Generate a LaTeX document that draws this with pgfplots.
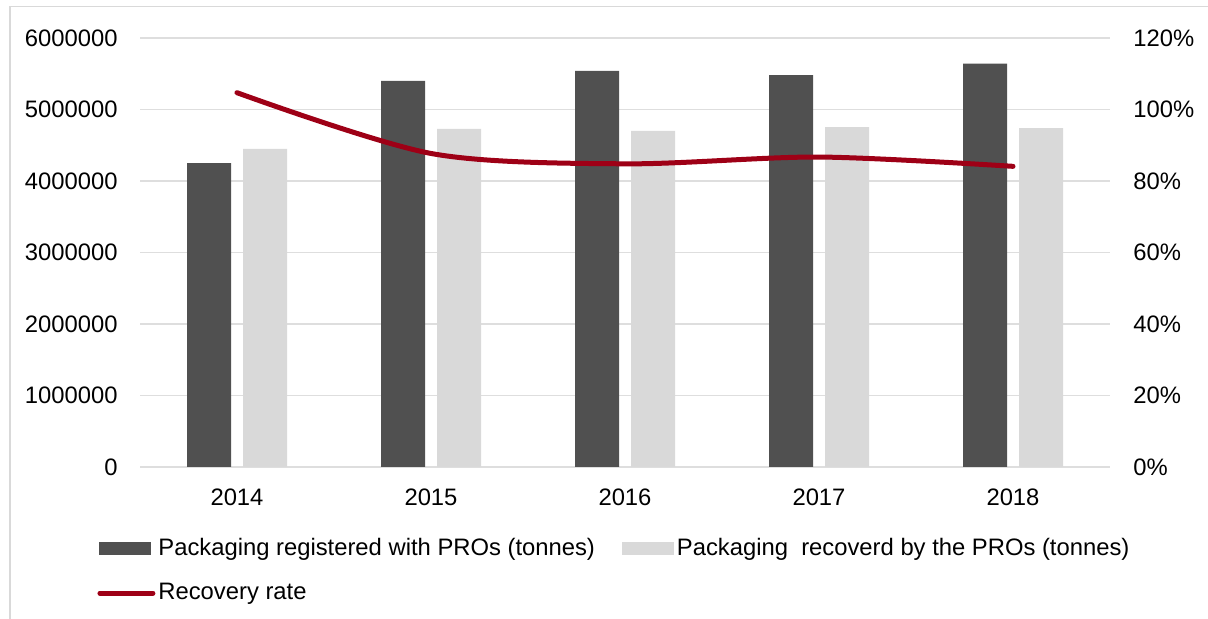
\documentclass[border=0pt]{standalone}
\usepackage{fontspec}
\setmainfont{Liberation Sans}
\usepackage{pgfplots}
\pgfplotsset{compat=1.18}

\definecolor{barDark}{RGB}{80,80,80}
\definecolor{barLight}{RGB}{217,217,217}
\definecolor{rateRed}{RGB}{158,0,22}
\definecolor{gridGray}{RGB}{222,222,222}

\newcommand{\lblfont}{\fontsize{11.9}{14}\selectfont}

\pgfplotsset{
  base/.style={
    scale only axis,
    width=485pt, height=214.5pt,
    at={(70pt,76pt)}, anchor=south west,
    xmin=-0.5, xmax=4.5,
    axis line style={draw=none},
    tick style={draw=none},
    tick label style={font=\lblfont, inner sep=0pt},
  },
}

\begin{document}
\begin{tikzpicture}
\path[use as bounding box] (0,0) rectangle (604pt,309.5pt);
\draw[barLight, line width=0.8pt] (5pt,0) |- (604pt,306.2pt);

\begin{axis}[
  base,
  ymin=0, ymax=6000000,
  scaled y ticks=false,
  ytick={0,1000000,2000000,3000000,4000000,5000000,6000000},
  yticklabels={0,1000000,2000000,3000000,4000000,5000000,6000000},
  yticklabel style={anchor=east, xshift=-11pt},
  xtick={0,1,2,3,4},
  xticklabels={2014,2015,2016,2017,2018},
  xticklabel style={anchor=base, yshift=-19.5pt},
  ymajorgrids,
  grid style={gridGray, line width=0.75pt},
  bar width=22pt,
  legend columns=2,
  legend cell align=left,
  legend style={
    at={(axis description cs:-0.0443,-0.165)}, anchor=north west,
    draw=none, fill=none, inner sep=0pt,
    font=\lblfont,
    nodes={inner sep=0pt},
    row sep=12.5pt,
    /tikz/every odd column/.append style={column sep=1.5pt},
    /tikz/every even column/.append style={column sep=13.5pt},
  },
]
\addplot[ybar, bar shift=-14pt, fill=barDark, draw=none,
  legend image code/.code={\fill[barDark] (0pt,-3.25pt) rectangle (26pt,3.25pt);}]
  coordinates {(0,4250000) (1,5400000) (2,5540000) (3,5480000) (4,5640000)};
\addlegendentry{Packaging registered with PROs (tonnes)}
\addplot[ybar, bar shift=14pt, fill=barLight, draw=none,
  legend image code/.code={\fill[barLight] (0pt,-3.25pt) rectangle (26pt,3.25pt);}]
  coordinates {(0,4450000) (1,4730000) (2,4700000) (3,4755000) (4,4740000)};
\addlegendentry{Packaging\ \ recoverd by the PROs (tonnes)}
\addlegendimage{legend image code/.code={\draw[rateRed, line width=2.5pt, line cap=round] (0.5pt,0pt) -- (27pt,0pt);}}
\addlegendentry{Recovery rate}
\end{axis}

\begin{axis}[
  base,
  ymin=0, ymax=1.2,
  ytick={0,0.2,0.4,0.6,0.8,1.0,1.2},
  yticklabels={0\%,20\%,40\%,60\%,80\%,100\%,120\%},
  yticklabel pos=right,
  yticklabel style={anchor=west, xshift=11.5pt},
  xtick=\empty,
]
\addplot[rateRed, line width=2.5pt, line cap=round, smooth, mark=none]
  coordinates {(0,1.047) (1,0.877) (2,0.848) (3,0.867) (4,0.841)};
\end{axis}
\end{tikzpicture}
\end{document}
